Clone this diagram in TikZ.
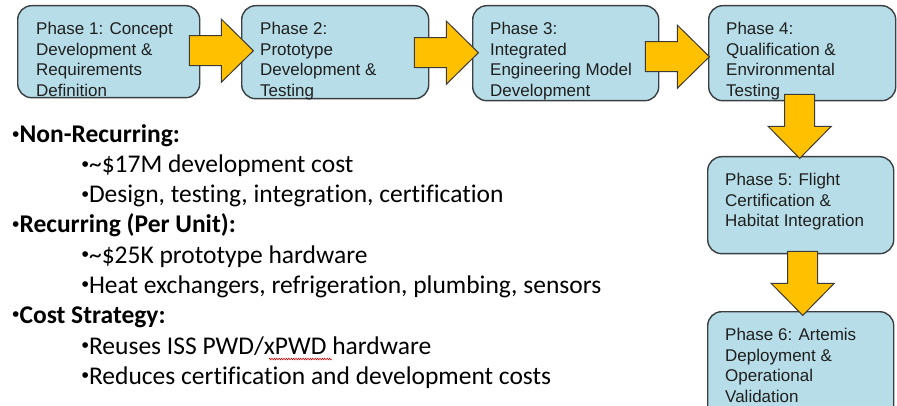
\documentclass[tikz,border=0pt]{standalone}
\usepackage{fontspec}
\setmainfont{Liberation Sans}
\newfontfamily\calibri[Ligatures={NoCommon,NoRequired,NoContextual}]{Carlito}
\newfontfamily\bulletfont{Liberation Sans}
\usetikzlibrary{calc,decorations.pathmorphing}

\definecolor{phasefill}{HTML}{B7DEE8}
\definecolor{phaseline}{HTML}{3A3F42}
\definecolor{arrowfill}{HTML}{FFC000}
\definecolor{arrowline}{HTML}{3A3A3A}

% small round bullet used in the cost list
\newcommand{\listdot}{{\bulletfont\fontseries{m}\fontsize{21}{21}\selectfont\raisebox{1.4pt}{•}}}

\tikzset{
  phasebox/.style={draw=phaseline, line width=1.4pt, fill=phasefill,
    rounded corners=14pt, inner sep=0pt, anchor=north west},
  phasetext/.style={anchor=north west, inner sep=0pt, align=left,
    text=black!88, font=\fontsize{17}{20.7}\selectfont},
  arrowshape/.style={draw=arrowline, line width=1pt, fill=arrowfill, line join=miter},
  pics/blockarrow/.style={code={
    \draw[arrowshape] (0,-15) -- (32,-15) -- (32,-31.5) -- (64,0)
      -- (32,31.5) -- (32,15) -- (0,15) -- cycle;}},
  costhead/.style={anchor=base west, inner sep=0pt,
    font=\calibri\bfseries\fontsize{25.5}{30}\selectfont},
  costitem/.style={anchor=base west, inner sep=0pt,
    font=\calibri\fontsize{25.5}{30}\selectfont},
}

\begin{document}
\begin{tikzpicture}[x=1pt, y=-1pt]
\useasboundingbox (0,0) rectangle (897,406);
\clip (0,0) rectangle (897,406);
\fill[white] (0,0) rectangle (897,406);

% phase boxes
\node[phasebox, minimum width=182pt, minimum height=92pt]  (b1) at (17,5) {};
\node[phasebox, minimum width=187pt, minimum height=93pt]  (b2) at (241,5) {};
\node[phasebox, minimum width=186pt, minimum height=95pt]  (b3) at (472,5) {};
\node[phasebox, minimum width=187pt, minimum height=95pt]  (b4) at (708,5) {};
\node[phasebox, minimum width=186pt, minimum height=97pt]  (b5) at (707,156) {};
\node[phasebox, minimum width=186pt, minimum height=110pt] (b6) at (707,311) {};

% phase labels
\node[phasetext] (t1) at ([shift={(19,16.8)}]b1.north west)
  {Phase 1: Concept\\Development \&\\Requirements\\Definition};
\node[phasetext] (t2) at ([shift={(19,16.8)}]b2.north west)
  {Phase 2:\\Prototype\\Development \&\\Testing};
\node[phasetext] (t3) at ([shift={(18,16.8)}]b3.north west)
  {Phase 3:\\Integrated\\Engineering Model\\Development};
\node[phasetext] (t4) at ([shift={(18,16.8)}]b4.north west)
  {Phase 4:\\Qualification \&\\Environmental\\Testing};
\node[phasetext] (t5) at ([shift={(18,16.8)}]b5.north west)
  {Phase 5: Flight\\Certification \&\\Habitat Integration};
\node[phasetext] (t6) at ([shift={(18,16.8)}]b6.north west)
  {Phase 6: Artemis\\Deployment \&\\Operational\\Validation};

% block arrows between phases
\pic at ($(b1.east)+(-11,-1)$) {blockarrow};
\pic at ($(b2.east)+(-15,0.5)$) {blockarrow};
\pic at ($(b3.east)+(-14,3.5)$) {blockarrow};
\pic[rotate=-90] at ($(b4.south)+(-2.5,-7)$) {blockarrow};
\pic[rotate=-90] at ($(b5.south)+(2,-3)$) {blockarrow};

% cost breakdown
\node[costhead] (h1) at (12,143) {\listdot Non-Recurring:};
\node[costitem] (s1) at (81.5,172.5) {\listdot\textasciitilde\$17M development cost};
\node[costitem] (s2) at (81.5,203) {\listdot Design, testing, integration, certification};
\node[costhead] (h2) at (12,232.5) {\listdot Recurring (Per Unit):};
\node[costitem] (s3) at (81.5,263) {\listdot\textasciitilde\$25K prototype hardware};
\node[costitem] (s4) at (81.5,293) {\listdot Heat exchangers, refrigeration, plumbing, sensors};
\node[costhead] (h3) at (12,323) {\listdot Cost Strategy:};
\node[costitem] (s5) at (81.5,354) {\listdot Reuses ISS PWD/xPWD hardware};
\node[costitem] (s6) at (81.5,384) {\listdot Reduces certification and development costs};

% spell-check squiggle under xPWD
\draw[red!85!black, line width=0.5pt, decorate,
  decoration={zigzag, amplitude=0.9pt, segment length=2.4pt}]
  (269,359) -- (332,359);
\end{tikzpicture}
\end{document}
